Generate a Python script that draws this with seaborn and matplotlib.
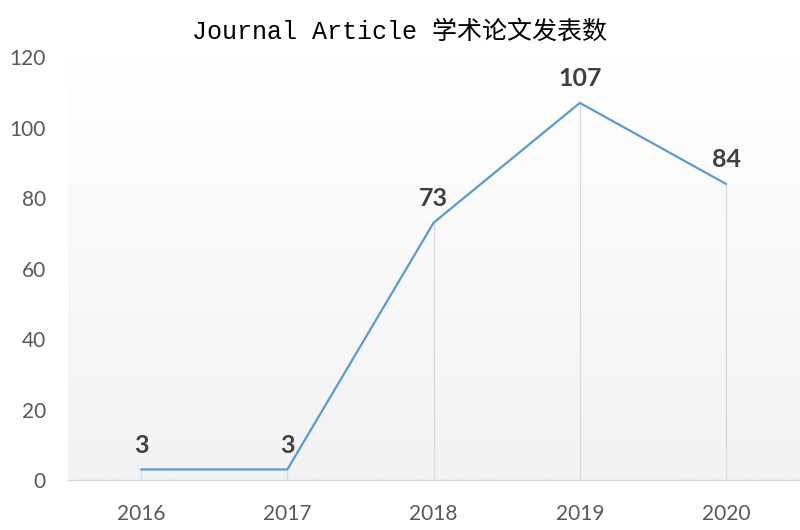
import numpy as np
import pandas as pd
import matplotlib
matplotlib.use("Agg")
import matplotlib.pyplot as plt
import seaborn as sns

# data
years = ["2016", "2017", "2018", "2019", "2020"]
counts = [3, 3, 73, 107, 84]
y_ticks = [0, 20, 40, 60, 80, 100, 120]
title_text = "Journal Article 学术论文发表数"

df = pd.DataFrame({"year": years, "count": counts})

sns.set_style("white")
plt.rcParams['font.family'] = ['Lato', 'Noto Sans CJK SC', 'DejaVu Sans']

fig = plt.figure(figsize=(8, 5.3), dpi=100)
ax = fig.add_axes([0.085, 0.0943, 0.914, 0.798])

# plot area gradient: white at top, light grey at the bottom
grad = np.linspace(1.0, 0.0, 256).reshape(-1, 1)
ax.imshow(grad, extent=[-0.5, 4.5, 0, 120], aspect='auto', origin='upper',
          cmap=matplotlib.colors.LinearSegmentedColormap.from_list("g", ["#f2f2f2", "#ffffff"]),
          vmin=0, vmax=1, zorder=0)

# drop lines
x_pos = np.arange(len(years))
ax.vlines(x_pos, 0, counts, color="#d9d9d9", linewidth=0.9, zorder=1)

sns.lineplot(data=df, x=x_pos, y="count", color="#5b9bd5", linewidth=1.6,
             sort=False, ax=ax, zorder=3)

for xi, v in zip(x_pos, counts):
    ax.annotate(str(v), (xi, v), xytext=(0, 9), textcoords="offset points",
                ha="center", va="bottom", fontsize=18, fontweight="bold",
                color="#404040")

ax.set_xlim(-0.5, 4.5)
ax.set_ylim(0, 120)
ax.set_xticks(x_pos)
ax.set_xticklabels(years)
ax.set_yticks(y_ticks)
ax.set_xlabel("")
ax.set_ylabel("")
ax.tick_params(axis="x", length=0, pad=17, labelsize=15, labelcolor="#595959")
ax.tick_params(axis="y", length=0, pad=16, labelsize=15, labelcolor="#595959")
for s in ["top", "right", "left"]:
    ax.spines[s].set_visible(False)
ax.spines["bottom"].set_color("#d9d9d9")
ax.spines["bottom"].set_linewidth(1.0)
ax.grid(False)

fig.text(0.5, 0.94, title_text, ha="center", va="center", fontsize=18,
         color="#000000", family=['Liberation Mono', 'Noto Sans CJK SC'])

fig.savefig("out.png", dpi=100)
